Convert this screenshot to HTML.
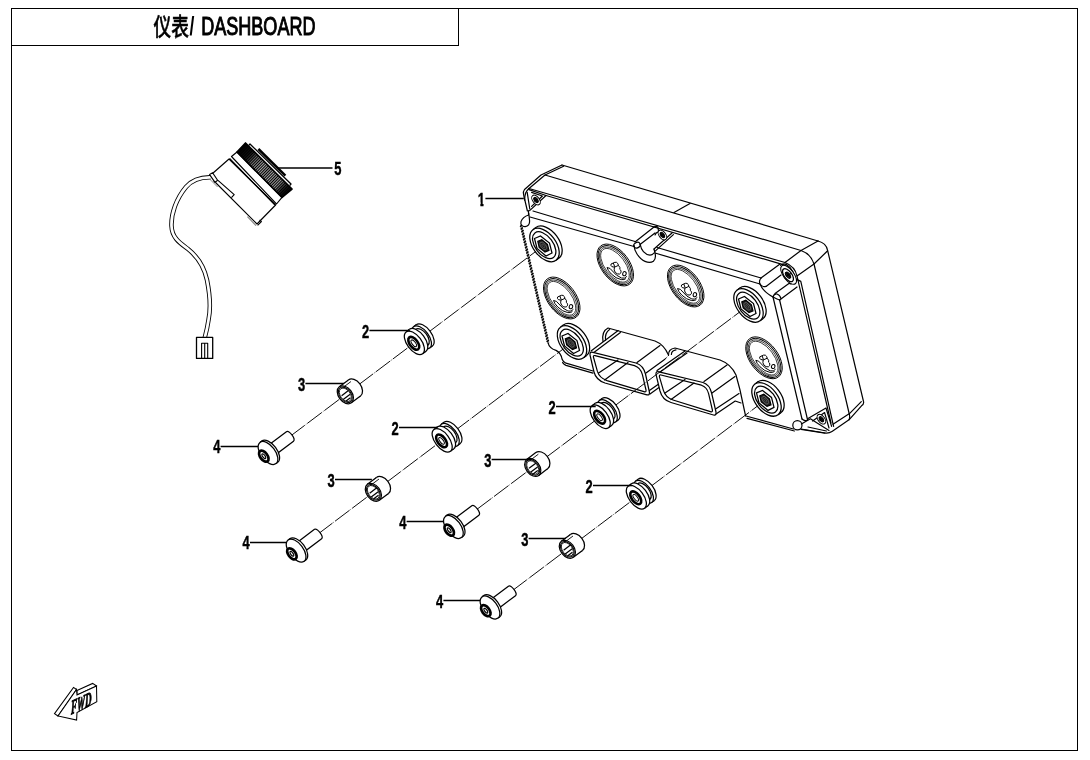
<!DOCTYPE html>
<html lang="zh"><head><meta charset="utf-8"><title>仪表/ DASHBOARD</title>
<style>
html,body{margin:0;padding:0;background:#fff;}
body{width:1090px;height:760px;overflow:hidden;position:relative;font-family:"Liberation Sans","Noto Sans CJK SC",sans-serif;}
svg{position:absolute;left:0;top:0;display:block;filter:grayscale(1)}
.lbl{font-family:"Liberation Sans","Noto Sans CJK SC",sans-serif;font-weight:bold;font-size:19px;fill:#000;stroke:#000;stroke-width:0.45px}
.ttl{font-family:"Liberation Sans","Noto Sans CJK SC",sans-serif;font-size:24px;fill:#000;stroke:none}
</style></head><body>
<svg width="1090" height="760" viewBox="0 0 1090 760">
<defs>

</defs>
<g fill="none" stroke="#000" stroke-width="1.1" shape-rendering="crispEdges">
<path d="M11.5,8.5 H1077.5 V750.5 H11.5 Z M11.5,45.5 H458.5 V8.5"/>
</g>
<text class="ttl" transform="translate(153.6,35.7) scale(0.71,1)" style="font-size:25px;font-weight:500;stroke:#000;stroke-width:0.45px">仪表</text>
<text class="ttl" transform="translate(189.4,35.3) scale(0.70,1)" style="font-size:25px;font-weight:bold">/</text>
<text class="ttl" transform="translate(201.2,35.3) scale(0.722,1)" style="font-size:25px;stroke:#000;stroke-width:1px">DASHBOARD</text>
<!-- part 1 : dashboard housing -->
<g fill="none" stroke="#000" stroke-width="1.2" stroke-linecap="round" stroke-linejoin="round">
<!-- body silhouette fill -->
<path d="M524,199 L523.5,194 Q523,191.5 524.5,189.5 L541,175 L562,165 L818,241 Q826,243 827.5,250 L863.5,401.5 Q864,404 861,406 L832,431.5 Q829,433.5 825,433 L801,429 L746,416 L593,372 L565,363.5 L548,343 L521,225 Z" fill="#fff" stroke="none"/>
<!-- top face -->
<path d="M562,165 L818,241"/>
<path d="M545,175 L801,250.5"/>
<path d="M562,165 L541,175 L524.5,189.5 Q523,191.5 523.5,194 L524.6,200"/>
<path d="M563.6,166.2 L545,175 L529,188.5"/>
<path d="M690,203.4 L674,212.4"/>
<!-- top-right corner / side -->
<path d="M818,241 L801,250.5 L785,262.5"/>
<path d="M827.4,251 L814,264 L797,276"/>
<path d="M818,241 Q826,243 827.5,250 L863.5,401.5 Q864.2,404 861.5,405.8 L849,419.8 L832,431.5 Q829,433.5 825,433 L801,429"/>
<path d="M801,250.5 Q811,254 814,264 L849.5,415 Q850,418 849,419.8"/>
<path d="M861.3,401.6 L849.5,413.6 L833,424.2"/>
<!-- lip -->
<path d="M529,188.5 L785,262.5 Q795,266.5 797,276 L831,423"/>
<path d="M546,195.5 L783,264.6 Q792.6,268.4 795,278.6 L800.8,281.4 L833.6,426.4"/>
<path d="M524.6,200 Q524.5,192 529,188.5"/>
<!-- top-left screw pocket -->
<path d="M529,189.6 L546,195.5 L529.6,210.6"/>
<path d="M531.6,192.4 L542.4,196 L531.6,206.4"/>
<path d="M524.6,199 L527.4,211 M527.2,192.4 L529.8,209"/>
<g transform="translate(536,200)" fill="#fff" stroke="#000" stroke-width="1"><ellipse cx="0" cy="0" rx="5.6" ry="3.3" transform="rotate(53 0 0)" /><ellipse cx="0" cy="0" rx="3" ry="1.6" transform="rotate(53 0 0)" fill="#222"/><path d="M-1.8,-1.6 L1.6,2 M-1.6,1 L1.4,-0.8" stroke-width="1.2"/></g>
<!-- notch top-left -->
<path d="M528.4,210.6 L528.6,215 Q522.6,217 521,221.6 Q520,226.8 525.2,226.6 Q529.8,226 529.6,221 L528.8,213" fill="#fff"/>
<!-- plate inset lines -->
<path d="M533,211 L635,241.5"/>
<path d="M530,217 L634,246.5"/>
<path d="M657,247.5 L761,278"/>
<path d="M655,253 L760,284"/>
<!-- centre recess -->
<path d="M654,227 L635,242"/>
<ellipse cx="637" cy="245.2" rx="3.3" ry="2.7" transform="rotate(-25 637 245.2)"/>
<path d="M634,245.6 Q634.4,250 637,254 Q640.6,259.6 645,261.4 Q650,263.6 653.4,261.2 Q656.4,258.4 655,253 L654,249"/>
<path d="M640.4,245 Q641,249 643.4,251.6 Q646.6,255 650,255.2 Q652.6,255 654,253"/>
<path d="M640,244.5 L655,233"/>
<path d="M654,249 L672,233 M654.6,251.6 L673.4,234.6"/>
<path d="M654,227 Q656.6,225.6 658,227.6 L658.6,231.6 Q655.6,232.6 655,235"/>
<g transform="translate(662.4,235)" fill="#fff" stroke="#000" stroke-width="1"><ellipse cx="0" cy="0" rx="5.6" ry="3.3" transform="rotate(53 0 0)" /><ellipse cx="0" cy="0" rx="3" ry="1.6" transform="rotate(53 0 0)" fill="#222"/><path d="M-1.8,-1.6 L1.6,2 M-1.6,1 L1.4,-0.8" stroke-width="1.2"/></g>
<!-- top-right corner column -->
<path d="M761,278 Q758.6,281 760,284 Q762,287.6 766,286.4"/>
<path d="M761,278 L780,264"/>
<path d="M766,286.4 L781,275"/>
<path d="M760,284 Q763,291.6 773,297 Q777.6,299.4 779.6,300"/>
<path d="M773,297 Q774,293.6 777,294 Q780,295 781,298.6"/>
<path d="M775,293.4 L791,282 M779.6,300 L797,287"/>
<path d="M780.6,265.4 Q783,263 786.4,264.6 Q790.6,267 793,272 Q795.6,278 794,282.6 Q791.6,284.6 789.6,283.4"/>
<g transform="translate(788.6,274.8)" fill="#fff" stroke="#000" stroke-width="1"><ellipse cx="0" cy="0" rx="11.2" ry="5.2" transform="rotate(53 0 0)" /><ellipse cx="-0.6" cy="0.4" rx="7.6" ry="3.8" transform="rotate(53 -0.6 0.4)" stroke-width="1.3"/><ellipse cx="-0.6" cy="0.4" rx="3.6" ry="1.8" transform="rotate(53 -0.6 0.4)" fill="#222"/><path d="M-2.6,-2.2 L2,2.6 M-2.2,1.2 L1.8,-1" stroke-width="1.3"/></g>
<!-- plate right edge -->
<path d="M773,297 L802,419"/>
<path d="M779.6,300 L807.6,420"/>
<!-- bottom-right notch & pocket -->
<ellipse cx="797.4" cy="425.2" rx="4.6" ry="4.6" fill="#fff"/>
<path d="M802,419 Q804.6,421.6 807.6,420"/>
<path d="M808,418.6 L826,408 L831.6,426.4"/>
<path d="M801.4,424 L810.4,418.8 L829,430.4"/>
<path d="M812.6,421 L824.6,412.6 L829,428"/>
<g transform="translate(821.4,419.2)" fill="#fff" stroke="#000" stroke-width="1"><ellipse cx="0" cy="0" rx="5.6" ry="3.3" transform="rotate(53 0 0)" /><ellipse cx="0" cy="0" rx="3" ry="1.6" transform="rotate(53 0 0)" fill="#222"/><path d="M-1.8,-1.6 L1.6,2 M-1.6,1 L1.4,-0.8" stroke-width="1.2"/></g>
<path d="M801,429.4 L825,433.2"/>
<path d="M808,427 L826.4,431"/>
<!-- plate bottom edge right part -->
<path d="M746,416 L793.4,429"/>
<path d="M747,418.4 L794.4,431"/>
<!-- plate left edge (hatched) and bottom-left -->
<path d="M521,225 L548.4,343.6" stroke-width="2.2" stroke="#9a9a9a" stroke-linecap="butt"/><path d="M520.1,226.8 l2.1,-2.1 M520.7,229.5 l2.1,-2.1 M521.4,232.2 l2.1,-2.1 M522.0,234.9 l2.1,-2.1 M522.6,237.5 l2.1,-2.1 M523.2,240.2 l2.1,-2.1 M523.8,242.9 l2.1,-2.1 M524.5,245.6 l2.1,-2.1 M525.1,248.3 l2.1,-2.1 M525.7,250.9 l2.1,-2.1 M526.3,253.6 l2.1,-2.1 M526.9,256.3 l2.1,-2.1 M527.6,259.0 l2.1,-2.1 M528.2,261.7 l2.1,-2.1 M528.8,264.3 l2.1,-2.1 M529.4,267.0 l2.1,-2.1 M530.0,269.7 l2.1,-2.1 M530.7,272.4 l2.1,-2.1 M531.3,275.1 l2.1,-2.1 M531.9,277.7 l2.1,-2.1 M532.5,280.4 l2.1,-2.1 M533.1,283.1 l2.1,-2.1 M533.7,285.8 l2.1,-2.1 M534.4,288.5 l2.1,-2.1 M535.0,291.1 l2.1,-2.1 M535.6,293.8 l2.1,-2.1 M536.2,296.5 l2.1,-2.1 M536.8,299.2 l2.1,-2.1 M537.5,301.9 l2.1,-2.1 M538.1,304.5 l2.1,-2.1 M538.7,307.2 l2.1,-2.1 M539.3,309.9 l2.1,-2.1 M539.9,312.6 l2.1,-2.1 M540.6,315.3 l2.1,-2.1 M541.2,317.9 l2.1,-2.1 M541.8,320.6 l2.1,-2.1 M542.4,323.3 l2.1,-2.1 M543.0,326.0 l2.1,-2.1 M543.7,328.6 l2.1,-2.1 M544.3,331.3 l2.1,-2.1 M544.9,334.0 l2.1,-2.1 M545.5,336.7 l2.1,-2.1 M546.1,339.4 l2.1,-2.1 M546.7,342.0 l2.1,-2.1" stroke-width="1.45" stroke-linecap="butt"/>
<path d="M548.2,343 Q549,348 556,350.4 Q561,353 562,359 Q563,362 566,363.2 L593,371"/>
<path d="M562.6,362.6 Q564,364.6 566,365.4 L593,373.2"/>
</g>
<!-- bosses and vents -->
<g transform="translate(543,246)" fill="#fff" stroke="#000" stroke-width="1.25"><ellipse cx="4.45" cy="-3.23" rx="19.2" ry="11.4" transform="rotate(53 4.45 -3.23)" /><path d="M13.05,14.33 L16.01,12.11 L-7.1,-18.56 L-10.05,-16.33Z" stroke="none"/><path d="M13.05,14.33 L16.01,12.11 M-7.1,-18.56 L-10.05,-16.33"/><ellipse cx="1.5" cy="-1" rx="19.2" ry="11.4" transform="rotate(53 1.5 -1)" /><ellipse cx="1.2" cy="-0.8" rx="15.4" ry="8.9" transform="rotate(53 1.2 -0.8)" /><path d="M-8.5,-7.5 L-2.5,-10 L6.5,-3 L9,7 L3,10 L-6,2.5Z"/><path d="M-5.2,-4.6 L-1.2,-6.2 L4.4,-1.6 L6,4.4 L2,6 L-3.8,1.4Z" fill="#1e1e1e" stroke-width="1.2"/><ellipse cx="0.3" cy="-0.1" rx="4.4" ry="2.4" transform="rotate(53 0.3 -0.1)" fill="none" stroke="#777" stroke-width="0.7"/><ellipse cx="0.3" cy="-0.1" rx="2.2" ry="1" transform="rotate(53 0.3 -0.1)" fill="none" stroke="#666" stroke-width="0.6"/></g>
<g transform="translate(570.5,343.5)" fill="#fff" stroke="#000" stroke-width="1.25"><ellipse cx="4.45" cy="-3.23" rx="19.2" ry="11.4" transform="rotate(53 4.45 -3.23)" /><path d="M13.05,14.33 L16.01,12.11 L-7.1,-18.56 L-10.05,-16.33Z" stroke="none"/><path d="M13.05,14.33 L16.01,12.11 M-7.1,-18.56 L-10.05,-16.33"/><ellipse cx="1.5" cy="-1" rx="19.2" ry="11.4" transform="rotate(53 1.5 -1)" /><ellipse cx="1.2" cy="-0.8" rx="15.4" ry="8.9" transform="rotate(53 1.2 -0.8)" /><path d="M-8.5,-7.5 L-2.5,-10 L6.5,-3 L9,7 L3,10 L-6,2.5Z"/><path d="M-5.2,-4.6 L-1.2,-6.2 L4.4,-1.6 L6,4.4 L2,6 L-3.8,1.4Z" fill="#1e1e1e" stroke-width="1.2"/><ellipse cx="0.3" cy="-0.1" rx="4.4" ry="2.4" transform="rotate(53 0.3 -0.1)" fill="none" stroke="#777" stroke-width="0.7"/><ellipse cx="0.3" cy="-0.1" rx="2.2" ry="1" transform="rotate(53 0.3 -0.1)" fill="none" stroke="#666" stroke-width="0.6"/></g>
<g transform="translate(747,306.5)" fill="#fff" stroke="#000" stroke-width="1.25"><ellipse cx="4.45" cy="-3.23" rx="19.2" ry="11.4" transform="rotate(53 4.45 -3.23)" /><path d="M13.05,14.33 L16.01,12.11 L-7.1,-18.56 L-10.05,-16.33Z" stroke="none"/><path d="M13.05,14.33 L16.01,12.11 M-7.1,-18.56 L-10.05,-16.33"/><ellipse cx="1.5" cy="-1" rx="19.2" ry="11.4" transform="rotate(53 1.5 -1)" /><ellipse cx="1.2" cy="-0.8" rx="15.4" ry="8.9" transform="rotate(53 1.2 -0.8)" /><path d="M-8.5,-7.5 L-2.5,-10 L6.5,-3 L9,7 L3,10 L-6,2.5Z"/><path d="M-5.2,-4.6 L-1.2,-6.2 L4.4,-1.6 L6,4.4 L2,6 L-3.8,1.4Z" fill="#1e1e1e" stroke-width="1.2"/><ellipse cx="0.3" cy="-0.1" rx="4.4" ry="2.4" transform="rotate(53 0.3 -0.1)" fill="none" stroke="#777" stroke-width="0.7"/><ellipse cx="0.3" cy="-0.1" rx="2.2" ry="1" transform="rotate(53 0.3 -0.1)" fill="none" stroke="#666" stroke-width="0.6"/></g>
<g transform="translate(765,400.4)" fill="#fff" stroke="#000" stroke-width="1.25"><ellipse cx="4.45" cy="-3.23" rx="19.2" ry="11.4" transform="rotate(53 4.45 -3.23)" /><path d="M13.05,14.33 L16.01,12.11 L-7.1,-18.56 L-10.05,-16.33Z" stroke="none"/><path d="M13.05,14.33 L16.01,12.11 M-7.1,-18.56 L-10.05,-16.33"/><ellipse cx="1.5" cy="-1" rx="19.2" ry="11.4" transform="rotate(53 1.5 -1)" /><ellipse cx="1.2" cy="-0.8" rx="15.4" ry="8.9" transform="rotate(53 1.2 -0.8)" /><path d="M-8.5,-7.5 L-2.5,-10 L6.5,-3 L9,7 L3,10 L-6,2.5Z"/><path d="M-5.2,-4.6 L-1.2,-6.2 L4.4,-1.6 L6,4.4 L2,6 L-3.8,1.4Z" fill="#1e1e1e" stroke-width="1.2"/><ellipse cx="0.3" cy="-0.1" rx="4.4" ry="2.4" transform="rotate(53 0.3 -0.1)" fill="none" stroke="#777" stroke-width="0.7"/><ellipse cx="0.3" cy="-0.1" rx="2.2" ry="1" transform="rotate(53 0.3 -0.1)" fill="none" stroke="#666" stroke-width="0.6"/></g>
<g transform="translate(615.25,265)" fill="#fff" stroke="#000" stroke-width="1"><ellipse cx="0" cy="0" rx="24" ry="14" transform="rotate(53 0 0)" stroke-width="0.9"/><ellipse cx="-0.1" cy="0.1" rx="22.6" ry="12.7" transform="rotate(53 -0.1 0.1)" stroke-width="1.0"/><ellipse cx="-0.2" cy="0.2" rx="21.1" ry="11.3" transform="rotate(53 -0.2 0.2)" stroke-width="0.7"/><ellipse cx="-0.3" cy="0.3" rx="19.7" ry="10" transform="rotate(53 -0.3 0.3)" stroke-width="0.7"/><path d="M-4.2,-1 L-0.4,-2.7 Q1.6,-3.2 2.6,-1.4 L3.2,0.4 L-0.8,2.2 L-3.4,1.6 Q-4.8,0.6 -4.2,-1Z M-1.9,-2 L-0.5,1.9"/><path d="M-0.8,2.2 Q-1.8,5 0,7.4 Q2,9.6 4.4,9 Q6.2,8 5.8,6.2 Q5.6,5 4.6,4.4 Q5.4,2.6 3.2,0.4" fill="none"/><ellipse cx="9.2" cy="8.7" rx="1.7" ry="2.1" transform="rotate(20 9.2 8.7)"/><path d="M-8.2,2.5 Q-5,2.6 -2.8,6 Q0.6,10.6 6.2,13 Q9.6,14 11.6,11.4 M-8.2,2.5 Q-7.6,5.4 -4,9 Q0.6,13.6 6,14.6 Q9,15 10.6,13.6" fill="none"/></g>
<g transform="translate(561.75,298)" fill="#fff" stroke="#000" stroke-width="1"><ellipse cx="0" cy="0" rx="24" ry="14" transform="rotate(53 0 0)" stroke-width="0.9"/><ellipse cx="-0.1" cy="0.1" rx="22.6" ry="12.7" transform="rotate(53 -0.1 0.1)" stroke-width="1.0"/><ellipse cx="-0.2" cy="0.2" rx="21.1" ry="11.3" transform="rotate(53 -0.2 0.2)" stroke-width="0.7"/><ellipse cx="-0.3" cy="0.3" rx="19.7" ry="10" transform="rotate(53 -0.3 0.3)" stroke-width="0.7"/><path d="M-4.2,-1 L-0.4,-2.7 Q1.6,-3.2 2.6,-1.4 L3.2,0.4 L-0.8,2.2 L-3.4,1.6 Q-4.8,0.6 -4.2,-1Z M-1.9,-2 L-0.5,1.9"/><path d="M-0.8,2.2 Q-1.8,5 0,7.4 Q2,9.6 4.4,9 Q6.2,8 5.8,6.2 Q5.6,5 4.6,4.4 Q5.4,2.6 3.2,0.4" fill="none"/><ellipse cx="9.2" cy="8.7" rx="1.7" ry="2.1" transform="rotate(20 9.2 8.7)"/><path d="M-8.2,2.5 Q-5,2.6 -2.8,6 Q0.6,10.6 6.2,13 Q9.6,14 11.6,11.4 M-8.2,2.5 Q-7.6,5.4 -4,9 Q0.6,13.6 6,14.6 Q9,15 10.6,13.6" fill="none"/></g>
<g transform="translate(685.7,286)" fill="#fff" stroke="#000" stroke-width="1"><ellipse cx="0" cy="0" rx="24" ry="14" transform="rotate(53 0 0)" stroke-width="0.9"/><ellipse cx="-0.1" cy="0.1" rx="22.6" ry="12.7" transform="rotate(53 -0.1 0.1)" stroke-width="1.0"/><ellipse cx="-0.2" cy="0.2" rx="21.1" ry="11.3" transform="rotate(53 -0.2 0.2)" stroke-width="0.7"/><ellipse cx="-0.3" cy="0.3" rx="19.7" ry="10" transform="rotate(53 -0.3 0.3)" stroke-width="0.7"/><path d="M-4.2,-1 L-0.4,-2.7 Q1.6,-3.2 2.6,-1.4 L3.2,0.4 L-0.8,2.2 L-3.4,1.6 Q-4.8,0.6 -4.2,-1Z M-1.9,-2 L-0.5,1.9"/><path d="M-0.8,2.2 Q-1.8,5 0,7.4 Q2,9.6 4.4,9 Q6.2,8 5.8,6.2 Q5.6,5 4.6,4.4 Q5.4,2.6 3.2,0.4" fill="none"/><ellipse cx="9.2" cy="8.7" rx="1.7" ry="2.1" transform="rotate(20 9.2 8.7)"/><path d="M-8.2,2.5 Q-5,2.6 -2.8,6 Q0.6,10.6 6.2,13 Q9.6,14 11.6,11.4 M-8.2,2.5 Q-7.6,5.4 -4,9 Q0.6,13.6 6,14.6 Q9,15 10.6,13.6" fill="none"/></g>
<g transform="translate(764,357.8)" fill="#fff" stroke="#000" stroke-width="1"><ellipse cx="0" cy="0" rx="24" ry="14" transform="rotate(53 0 0)" stroke-width="0.9"/><ellipse cx="-0.1" cy="0.1" rx="22.6" ry="12.7" transform="rotate(53 -0.1 0.1)" stroke-width="1.0"/><ellipse cx="-0.2" cy="0.2" rx="21.1" ry="11.3" transform="rotate(53 -0.2 0.2)" stroke-width="0.7"/><ellipse cx="-0.3" cy="0.3" rx="19.7" ry="10" transform="rotate(53 -0.3 0.3)" stroke-width="0.7"/><path d="M-4.2,-1 L-0.4,-2.7 Q1.6,-3.2 2.6,-1.4 L3.2,0.4 L-0.8,2.2 L-3.4,1.6 Q-4.8,0.6 -4.2,-1Z M-1.9,-2 L-0.5,1.9"/><path d="M-0.8,2.2 Q-1.8,5 0,7.4 Q2,9.6 4.4,9 Q6.2,8 5.8,6.2 Q5.6,5 4.6,4.4 Q5.4,2.6 3.2,0.4" fill="none"/><ellipse cx="9.2" cy="8.7" rx="1.7" ry="2.1" transform="rotate(20 9.2 8.7)"/><path d="M-8.2,2.5 Q-5,2.6 -2.8,6 Q0.6,10.6 6.2,13 Q9.6,14 11.6,11.4 M-8.2,2.5 Q-7.6,5.4 -4,9 Q0.6,13.6 6,14.6 Q9,15 10.6,13.6" fill="none"/></g>
<!-- connectors -->
<g fill="#fff" stroke="#000" stroke-width="1.2" stroke-linecap="round" stroke-linejoin="round">
<!-- connector 1 -->
<path d="M591.5,352 L603,341 Q601.5,331.5 608,328 L655,341 Q664,344.5 668.5,355 L668,380 L649,394.6 L593,353 Z" stroke="none"/>
<path d="M603,341.4 Q601.4,331.4 608,328 L655,341 Q664,344.5 668.5,355" fill="none"/>
<path d="M605.6,340.2 Q604.6,333 609.6,329.6" fill="none"/>
<path d="M591,351 L618.2,330.6 M593.2,353 L620.4,332.6" fill="none"/>
<path d="M637,362.6 L660,345.6 M646,373 L668,357" fill="none"/>
<path d="M649.4,390.6 L658,384.4 M650,394 L659,387.6" fill="none"/>
<path d="M593,352.3 L636,363 Q643.5,365.5 645.5,374 L649.4,392 Q650,396 646,394.6 L605,383 Q596,380 594,372 L590,355 Q589.6,351.4 593,352.3 Z"/>
<path d="M595,355.6 L634.5,365.6 Q640.5,367.6 642.4,374.6 L646,390 Q646.5,392.4 644,391.6 L607,380.6 Q599.4,378 597.4,371.4 L593.4,357 Q593.2,355.2 595,355.6 Z"/>
<path d="M598.6,373 L618,360 M604.6,380 L628,362.6" fill="none"/>
<!-- connector 2 -->
<path d="M657.5,371.5 L668.5,355 Q668,349 675,348 L720,360 Q731,364 736,375 L740,390 L741,403 L737,400 L716,414.6 Z" stroke="none"/>
<path d="M668.5,355.4 Q668,349 675,348 L720,360 Q731,364 736,375 L740,390 L745.6,416" fill="none"/>
<path d="M671.4,354.4 Q671.4,350.6 676,349.8" fill="none"/>
<path d="M657,370.6 L685,351 M659.4,372.6 L687,353" fill="none"/>
<path d="M704,381.6 L727,365 M712,393 L735,376.6" fill="none"/>
<path d="M715.6,409 L739,393.6 M716,414 L735.2,401 L741,403" fill="none"/>
<path d="M659,371.8 L703,382.5 Q709.6,384.6 711.6,393 L716,412 Q716.6,416 712.6,414.8 L671,402.5 Q662.4,400 660,391 L656,374.4 Q655.6,371 659,371.8 Z"/>
<path d="M661,375 L701.4,385.2 Q707,387 708.6,393.6 L712.4,410 Q712.8,412.4 710.4,411.6 L673,400 Q665.6,397.6 663.4,390.4 L659.4,376.6 Q659.2,374.6 661,375 Z"/>
<path d="M665,393 L685,379.6 M671,399.6 L694,383" fill="none"/>
</g>
<!-- leader 1 -->
<path d="M485.4,198.5 H523.8" stroke="#000" stroke-width="1.3" fill="none"/>
<clipPath id="c1"><path d="M475,186 H484.4 V202.3 H483.5 V208 H480.4 V202.3 H475 Z"/></clipPath>
<g clip-path="url(#c1)"><text class="lbl" transform="translate(477.8,205.6) scale(0.68,1)">1</text></g>

<!-- part 5 : cap with lanyard -->
<defs>
<pattern id="knurl" width="2" height="6" patternUnits="userSpaceOnUse" patternTransform="rotate(44.6)">
<rect width="2" height="6" fill="#000"/><rect x="0" width="0.8" height="6" fill="#e6e6e6"/>
</pattern>
<linearGradient id="knsh" gradientUnits="userSpaceOnUse" x1="241" y1="147.5" x2="287" y2="193.5">
<stop offset="0" stop-color="#000" stop-opacity="1"/><stop offset="0.16" stop-color="#000" stop-opacity="0.9"/>
<stop offset="0.36" stop-color="#000" stop-opacity="0.12"/><stop offset="0.78" stop-color="#000" stop-opacity="0.12"/>
<stop offset="0.92" stop-color="#000" stop-opacity="0.85"/><stop offset="1" stop-color="#000" stop-opacity="1"/>
</linearGradient>
</defs>
<g fill="none" stroke="#000" stroke-width="1.15" stroke-linejoin="round">
<!-- wire -->
<path d="M211,177.3 C200,177 192,180 186,187 C176,199 171,214 171.5,226 C172,238 180,243 188,249 C198,257 204,266 207,280 C210,295 211,308 208.5,320 C207.5,327 206,333 204.8,337.5" stroke-width="4.5"/>
<path d="M211,177.3 C200,177 192,180 186,187 C176,199 171,214 171.5,226 C172,238 180,243 188,249 C198,257 204,266 207,280 C210,295 211,308 208.5,320 C207.5,327 206,333 204.8,337.5" stroke="#fff" stroke-width="2.7"/>
<!-- connector -->
<path d="M196.5,337.4 H212.7 V358.4 H196.5 Z" fill="#fff" stroke-width="1.3"/>
<path d="M201.6,358.4 V343.3 H207.7 V358.4 M204.7,343.3 V358.4" stroke-width="1.1"/>
<!-- body -->
<path d="M229,159 L212.5,173.5 L214,181 L257,224 L275.6,205 Z" fill="#fff"/>
<path d="M209.6,174.6 L212.6,172.8 L217.6,180.2 L215,182.4 Z" fill="#fff"/>
<path d="M218,180.4 L234.2,194.6 L231.4,197.6"/>
<path d="M210.6,180 L217.6,187" stroke="#888" stroke-width="1"/>
<path d="M247.4,216.6 L256,225.6" stroke="#888" stroke-width="1.2"/>
<path d="M257.6,225.4 L261.4,221.6 L259.6,219.8"/>
<!-- white ring -->
<path d="M237,152 L231.5,156.5 L276.5,204 L282,197.4 Z" fill="#fff"/>
<path d="M229.6,158.4 L275,205"/>
<!-- knurled band -->
<path d="M245.5,143 L292,189 L282,197.4 L237,152 Z" fill="url(#knurl)" stroke="none"/>
<path d="M245.5,143 L292,189 L282,197.4 L237,152 Z" fill="url(#knsh)" stroke-width="1.7"/>
<!-- lips -->
<path d="M248.8,145.4 L250,144 L291,184 L289.6,185.6" stroke-width="1.3"/>
<path d="M258.4,149 L285.4,175.6" stroke-width="2.5"/>
<!-- leader -->
<path d="M277.5,168 H332.5" stroke-width="1.3"/>
</g>
<text class="lbl" transform="translate(334.3,174.6) scale(0.68,1)">5</text>

<g fill="none" stroke="#000" stroke-width="0.95" stroke-dasharray="18.2 1.3 0.6 1.3" stroke-dashoffset="10.4">
<path d="M535.81,251.41 L283.98,440.97"/>
<path d="M563.32,348.92 L312.06,538.55"/>
<path d="M739.8,311.9 L469.39,514.99"/>
<path d="M757.81,405.81 L505.98,595.47"/>
</g>
<g transform="translate(414.37,342.82)" fill="#fff" stroke="#000" stroke-width="1.25"><ellipse cx="9.9" cy="-7.46" rx="13.4" ry="7.2" transform="rotate(53 9.9 -7.46)" /><path d="M15.25,5.29 L17.97,3.24 L1.84,-18.16 L-0.88,-16.12Z" stroke="none"/><path d="M15.25,5.29 L17.97,3.24 M1.84,-18.16 L-0.88,-16.12"/><ellipse cx="7.19" cy="-5.42" rx="13.4" ry="7.2" transform="rotate(53 7.19 -5.42)" /><ellipse cx="7.51" cy="-5.66" rx="10" ry="5.4" transform="rotate(53 7.51 -5.66)" /><path d="M9.37,5.46 L13.53,2.33 L1.49,-13.64 L-2.66,-10.51Z" stroke="none"/><path d="M9.37,5.46 L13.53,2.33 M1.49,-13.64 L-2.66,-10.51"/><ellipse cx="3.35" cy="-2.53" rx="10" ry="5.4" transform="rotate(53 3.35 -2.53)" /><ellipse cx="3.35" cy="-2.53" rx="13.7" ry="7.2" transform="rotate(53 3.35 -2.53)" /><path d="M8.24,10.94 L11.6,8.41 L-4.89,-13.47 L-8.24,-10.94Z" stroke="none"/><path d="M8.24,10.94 L11.6,8.41 M-4.89,-13.47 L-8.24,-10.94"/><ellipse cx="0" cy="0" rx="13.7" ry="7.2" transform="rotate(53 0 0)" /><ellipse cx="-0.6" cy="0.5" rx="7.4" ry="4" transform="rotate(53 -0.6 0.5)" stroke-width="2.6"/><ellipse cx="-0.6" cy="0.5" rx="4" ry="1.7" transform="rotate(53 -0.6 0.5)" stroke-width="1"/></g>
<g transform="translate(345.34,394.79)" fill="#fff" stroke="#000" stroke-width="1.25"><ellipse cx="9.1" cy="-6.86" rx="10" ry="6.8" transform="rotate(53 9.1 -6.86)" /><path d="M6.02,7.99 L15.12,1.13 L3.09,-14.85 L-6.02,-7.99Z" stroke="none"/><path d="M6.02,7.99 L15.12,1.13 M3.09,-14.85 L-6.02,-7.99"/><ellipse cx="0" cy="0" rx="10" ry="6.8" transform="rotate(53 0 0)" /><ellipse cx="0" cy="0" rx="8.7" ry="5.7" transform="rotate(53 0 0)" stroke-width="1"/><ellipse cx="0" cy="0" rx="7.6" ry="4.9" transform="rotate(53 0 0)" stroke-width="0.8"/><path d="M-3.14,-6.65 l8.78,-6.62" stroke-width="0.9"/><path d="M-3.7,0.91 L3.09,-4.21"/><path d="M-2.17,4.76 L4.86,-0.53"/><path d="M0.43,6.56 L5.07,3.07"/></g>
<g transform="translate(268,453)" fill="#fff" stroke="#000" stroke-width="1.25"><path d="M-1.95,-5.92 L18.41,-21.26 C20.81,-23.07 28.39,-14 25.51,-11.84 L5.15,3.51Z"/><ellipse cx="1.76" cy="-1.32" rx="13.3" ry="7.2" transform="rotate(53 1.76 -1.32)" /><path d="M8,10.62 L9.76,9.3 L-6.25,-11.95 L-8,-10.62Z" stroke="none"/><path d="M8,10.62 L9.76,9.3 M-6.25,-11.95 L-8,-10.62"/><ellipse cx="0" cy="0" rx="13.3" ry="7.2" transform="rotate(53 0 0)" /><ellipse cx="-4.2" cy="3.2" rx="6.3" ry="3.6" transform="rotate(53 -4.2 3.2)" stroke-width="2.7"/><ellipse cx="-4.2" cy="3.2" rx="2.8" ry="1.2" transform="rotate(53 -4.2 3.2)" stroke-width="1.2"/></g>
<path d="M369.4,330.5 H409.87" stroke="#000" stroke-width="1.3" fill="none"/>
<text class="lbl" transform="translate(362,338.4) scale(0.68,1)">2</text>
<path d="M305.4,383.5 H343.84" stroke="#000" stroke-width="1.3" fill="none"/>
<text class="lbl" transform="translate(298,391) scale(0.68,1)">3</text>
<path d="M220.6,446.5 H258" stroke="#000" stroke-width="1.3" fill="none"/>
<text class="lbl" transform="translate(213.2,453.2) scale(0.68,1)">4</text>
<g transform="translate(442.17,440.36)" fill="#fff" stroke="#000" stroke-width="1.25"><ellipse cx="9.9" cy="-7.46" rx="13.4" ry="7.2" transform="rotate(53 9.9 -7.46)" /><path d="M15.25,5.29 L17.97,3.24 L1.84,-18.16 L-0.88,-16.12Z" stroke="none"/><path d="M15.25,5.29 L17.97,3.24 M1.84,-18.16 L-0.88,-16.12"/><ellipse cx="7.19" cy="-5.42" rx="13.4" ry="7.2" transform="rotate(53 7.19 -5.42)" /><ellipse cx="7.51" cy="-5.66" rx="10" ry="5.4" transform="rotate(53 7.51 -5.66)" /><path d="M9.37,5.46 L13.53,2.33 L1.49,-13.64 L-2.66,-10.51Z" stroke="none"/><path d="M9.37,5.46 L13.53,2.33 M1.49,-13.64 L-2.66,-10.51"/><ellipse cx="3.35" cy="-2.53" rx="10" ry="5.4" transform="rotate(53 3.35 -2.53)" /><ellipse cx="3.35" cy="-2.53" rx="13.7" ry="7.2" transform="rotate(53 3.35 -2.53)" /><path d="M8.24,10.94 L11.6,8.41 L-4.89,-13.47 L-8.24,-10.94Z" stroke="none"/><path d="M8.24,10.94 L11.6,8.41 M-4.89,-13.47 L-8.24,-10.94"/><ellipse cx="0" cy="0" rx="13.7" ry="7.2" transform="rotate(53 0 0)" /><ellipse cx="-0.6" cy="0.5" rx="7.4" ry="4" transform="rotate(53 -0.6 0.5)" stroke-width="2.6"/><ellipse cx="-0.6" cy="0.5" rx="4" ry="1.7" transform="rotate(53 -0.6 0.5)" stroke-width="1"/></g>
<g transform="translate(373.36,492.29)" fill="#fff" stroke="#000" stroke-width="1.25"><ellipse cx="9.1" cy="-6.86" rx="10" ry="6.8" transform="rotate(53 9.1 -6.86)" /><path d="M6.02,7.99 L15.12,1.13 L3.09,-14.85 L-6.02,-7.99Z" stroke="none"/><path d="M6.02,7.99 L15.12,1.13 M3.09,-14.85 L-6.02,-7.99"/><ellipse cx="0" cy="0" rx="10" ry="6.8" transform="rotate(53 0 0)" /><ellipse cx="0" cy="0" rx="8.7" ry="5.7" transform="rotate(53 0 0)" stroke-width="1"/><ellipse cx="0" cy="0" rx="7.6" ry="4.9" transform="rotate(53 0 0)" stroke-width="0.8"/><path d="M-3.14,-6.65 l8.78,-6.62" stroke-width="0.9"/><path d="M-3.7,0.91 L3.09,-4.21"/><path d="M-2.17,4.76 L4.86,-0.53"/><path d="M0.43,6.56 L5.07,3.07"/></g>
<g transform="translate(296.1,550.6)" fill="#fff" stroke="#000" stroke-width="1.25"><path d="M-1.95,-5.92 L18.41,-21.26 C20.81,-23.07 28.39,-14 25.51,-11.84 L5.15,3.51Z"/><ellipse cx="1.76" cy="-1.32" rx="13.3" ry="7.2" transform="rotate(53 1.76 -1.32)" /><path d="M8,10.62 L9.76,9.3 L-6.25,-11.95 L-8,-10.62Z" stroke="none"/><path d="M8,10.62 L9.76,9.3 M-6.25,-11.95 L-8,-10.62"/><ellipse cx="0" cy="0" rx="13.3" ry="7.2" transform="rotate(53 0 0)" /><ellipse cx="-4.2" cy="3.2" rx="6.3" ry="3.6" transform="rotate(53 -4.2 3.2)" stroke-width="2.7"/><ellipse cx="-4.2" cy="3.2" rx="2.8" ry="1.2" transform="rotate(53 -4.2 3.2)" stroke-width="1.2"/></g>
<path d="M399,427.5 H437.67" stroke="#000" stroke-width="1.3" fill="none"/>
<text class="lbl" transform="translate(391.6,434.6) scale(0.68,1)">2</text>
<path d="M335,479.5 H371.86" stroke="#000" stroke-width="1.3" fill="none"/>
<text class="lbl" transform="translate(327.6,487) scale(0.68,1)">3</text>
<path d="M250,542.5 H286.1" stroke="#000" stroke-width="1.3" fill="none"/>
<text class="lbl" transform="translate(242.6,549.4) scale(0.68,1)">4</text>
<g transform="translate(600.21,416.74)" fill="#fff" stroke="#000" stroke-width="1.25"><ellipse cx="9.9" cy="-7.46" rx="13.4" ry="7.2" transform="rotate(53 9.9 -7.46)" /><path d="M15.25,5.29 L17.97,3.24 L1.84,-18.16 L-0.88,-16.12Z" stroke="none"/><path d="M15.25,5.29 L17.97,3.24 M1.84,-18.16 L-0.88,-16.12"/><ellipse cx="7.19" cy="-5.42" rx="13.4" ry="7.2" transform="rotate(53 7.19 -5.42)" /><ellipse cx="7.51" cy="-5.66" rx="10" ry="5.4" transform="rotate(53 7.51 -5.66)" /><path d="M9.37,5.46 L13.53,2.33 L1.49,-13.64 L-2.66,-10.51Z" stroke="none"/><path d="M9.37,5.46 L13.53,2.33 M1.49,-13.64 L-2.66,-10.51"/><ellipse cx="3.35" cy="-2.53" rx="10" ry="5.4" transform="rotate(53 3.35 -2.53)" /><ellipse cx="3.35" cy="-2.53" rx="13.7" ry="7.2" transform="rotate(53 3.35 -2.53)" /><path d="M8.24,10.94 L11.6,8.41 L-4.89,-13.47 L-8.24,-10.94Z" stroke="none"/><path d="M8.24,10.94 L11.6,8.41 M-4.89,-13.47 L-8.24,-10.94"/><ellipse cx="0" cy="0" rx="13.7" ry="7.2" transform="rotate(53 0 0)" /><ellipse cx="-0.6" cy="0.5" rx="7.4" ry="4" transform="rotate(53 -0.6 0.5)" stroke-width="2.6"/><ellipse cx="-0.6" cy="0.5" rx="4" ry="1.7" transform="rotate(53 -0.6 0.5)" stroke-width="1"/></g>
<g transform="translate(532.72,467.43)" fill="#fff" stroke="#000" stroke-width="1.25"><ellipse cx="9.1" cy="-6.86" rx="10" ry="6.8" transform="rotate(53 9.1 -6.86)" /><path d="M6.02,7.99 L15.12,1.13 L3.09,-14.85 L-6.02,-7.99Z" stroke="none"/><path d="M6.02,7.99 L15.12,1.13 M3.09,-14.85 L-6.02,-7.99"/><ellipse cx="0" cy="0" rx="10" ry="6.8" transform="rotate(53 0 0)" /><ellipse cx="0" cy="0" rx="8.7" ry="5.7" transform="rotate(53 0 0)" stroke-width="1"/><ellipse cx="0" cy="0" rx="7.6" ry="4.9" transform="rotate(53 0 0)" stroke-width="0.8"/><path d="M-3.14,-6.65 l8.78,-6.62" stroke-width="0.9"/><path d="M-3.7,0.91 L3.09,-4.21"/><path d="M-2.17,4.76 L4.86,-0.53"/><path d="M0.43,6.56 L5.07,3.07"/></g>
<g transform="translate(453.4,527)" fill="#fff" stroke="#000" stroke-width="1.25"><path d="M-1.95,-5.92 L18.41,-21.26 C20.81,-23.07 28.39,-14 25.51,-11.84 L5.15,3.51Z"/><ellipse cx="1.76" cy="-1.32" rx="13.3" ry="7.2" transform="rotate(53 1.76 -1.32)" /><path d="M8,10.62 L9.76,9.3 L-6.25,-11.95 L-8,-10.62Z" stroke="none"/><path d="M8,10.62 L9.76,9.3 M-6.25,-11.95 L-8,-10.62"/><ellipse cx="0" cy="0" rx="13.3" ry="7.2" transform="rotate(53 0 0)" /><ellipse cx="-4.2" cy="3.2" rx="6.3" ry="3.6" transform="rotate(53 -4.2 3.2)" stroke-width="2.7"/><ellipse cx="-4.2" cy="3.2" rx="2.8" ry="1.2" transform="rotate(53 -4.2 3.2)" stroke-width="1.2"/></g>
<path d="M556,406.5 H595.71" stroke="#000" stroke-width="1.3" fill="none"/>
<text class="lbl" transform="translate(548.6,414) scale(0.68,1)">2</text>
<path d="M491.6,459.5 H531.22" stroke="#000" stroke-width="1.3" fill="none"/>
<text class="lbl" transform="translate(484.2,466.8) scale(0.68,1)">3</text>
<path d="M406.6,521.5 H443.4" stroke="#000" stroke-width="1.3" fill="none"/>
<text class="lbl" transform="translate(399.2,529) scale(0.68,1)">4</text>
<g transform="translate(636.34,497.29)" fill="#fff" stroke="#000" stroke-width="1.25"><ellipse cx="9.9" cy="-7.46" rx="13.4" ry="7.2" transform="rotate(53 9.9 -7.46)" /><path d="M15.25,5.29 L17.97,3.24 L1.84,-18.16 L-0.88,-16.12Z" stroke="none"/><path d="M15.25,5.29 L17.97,3.24 M1.84,-18.16 L-0.88,-16.12"/><ellipse cx="7.19" cy="-5.42" rx="13.4" ry="7.2" transform="rotate(53 7.19 -5.42)" /><ellipse cx="7.51" cy="-5.66" rx="10" ry="5.4" transform="rotate(53 7.51 -5.66)" /><path d="M9.37,5.46 L13.53,2.33 L1.49,-13.64 L-2.66,-10.51Z" stroke="none"/><path d="M9.37,5.46 L13.53,2.33 M1.49,-13.64 L-2.66,-10.51"/><ellipse cx="3.35" cy="-2.53" rx="10" ry="5.4" transform="rotate(53 3.35 -2.53)" /><ellipse cx="3.35" cy="-2.53" rx="13.7" ry="7.2" transform="rotate(53 3.35 -2.53)" /><path d="M8.24,10.94 L11.6,8.41 L-4.89,-13.47 L-8.24,-10.94Z" stroke="none"/><path d="M8.24,10.94 L11.6,8.41 M-4.89,-13.47 L-8.24,-10.94"/><ellipse cx="0" cy="0" rx="13.7" ry="7.2" transform="rotate(53 0 0)" /><ellipse cx="-0.6" cy="0.5" rx="7.4" ry="4" transform="rotate(53 -0.6 0.5)" stroke-width="2.6"/><ellipse cx="-0.6" cy="0.5" rx="4" ry="1.7" transform="rotate(53 -0.6 0.5)" stroke-width="1"/></g>
<g transform="translate(567.33,549.27)" fill="#fff" stroke="#000" stroke-width="1.25"><ellipse cx="9.1" cy="-6.86" rx="10" ry="6.8" transform="rotate(53 9.1 -6.86)" /><path d="M6.02,7.99 L15.12,1.13 L3.09,-14.85 L-6.02,-7.99Z" stroke="none"/><path d="M6.02,7.99 L15.12,1.13 M3.09,-14.85 L-6.02,-7.99"/><ellipse cx="0" cy="0" rx="10" ry="6.8" transform="rotate(53 0 0)" /><ellipse cx="0" cy="0" rx="8.7" ry="5.7" transform="rotate(53 0 0)" stroke-width="1"/><ellipse cx="0" cy="0" rx="7.6" ry="4.9" transform="rotate(53 0 0)" stroke-width="0.8"/><path d="M-3.14,-6.65 l8.78,-6.62" stroke-width="0.9"/><path d="M-3.7,0.91 L3.09,-4.21"/><path d="M-2.17,4.76 L4.86,-0.53"/><path d="M0.43,6.56 L5.07,3.07"/></g>
<g transform="translate(490,607.5)" fill="#fff" stroke="#000" stroke-width="1.25"><path d="M-1.95,-5.92 L18.41,-21.26 C20.81,-23.07 28.39,-14 25.51,-11.84 L5.15,3.51Z"/><ellipse cx="1.76" cy="-1.32" rx="13.3" ry="7.2" transform="rotate(53 1.76 -1.32)" /><path d="M8,10.62 L9.76,9.3 L-6.25,-11.95 L-8,-10.62Z" stroke="none"/><path d="M8,10.62 L9.76,9.3 M-6.25,-11.95 L-8,-10.62"/><ellipse cx="0" cy="0" rx="13.3" ry="7.2" transform="rotate(53 0 0)" /><ellipse cx="-4.2" cy="3.2" rx="6.3" ry="3.6" transform="rotate(53 -4.2 3.2)" stroke-width="2.7"/><ellipse cx="-4.2" cy="3.2" rx="2.8" ry="1.2" transform="rotate(53 -4.2 3.2)" stroke-width="1.2"/></g>
<path d="M593,485.5 H631.84" stroke="#000" stroke-width="1.3" fill="none"/>
<text class="lbl" transform="translate(585.6,493) scale(0.68,1)">2</text>
<path d="M528.6,538.5 H565.83" stroke="#000" stroke-width="1.3" fill="none"/>
<text class="lbl" transform="translate(521.2,545.8) scale(0.68,1)">3</text>
<path d="M443.4,600.5 H480" stroke="#000" stroke-width="1.3" fill="none"/>
<text class="lbl" transform="translate(436,608) scale(0.68,1)">4</text>
<!-- FWD arrow -->
<g fill="#fff" stroke="#000" stroke-width="1.05" stroke-linejoin="miter">
<path d="M58,716 L54.5,713.6 L73.5,687.4 L76.5,689.5 Z"/>
<path d="M77,690.5 L92.6,683.4 L96.5,686 L77,695 Z"/>
<path d="M58,716 L76.5,689.5 L77,695 L96.5,686 L96.8,701.6 L77,712.5 L76.6,720 Z"/>
</g>
<text transform="matrix(0.45,-0.216,0,1,71,714.6)" style="font-family:'Liberation Serif',serif;font-weight:bold;font-style:italic;font-size:20px" fill="#000" stroke="#000" stroke-width="1">FWD</text>

</svg></body></html>
